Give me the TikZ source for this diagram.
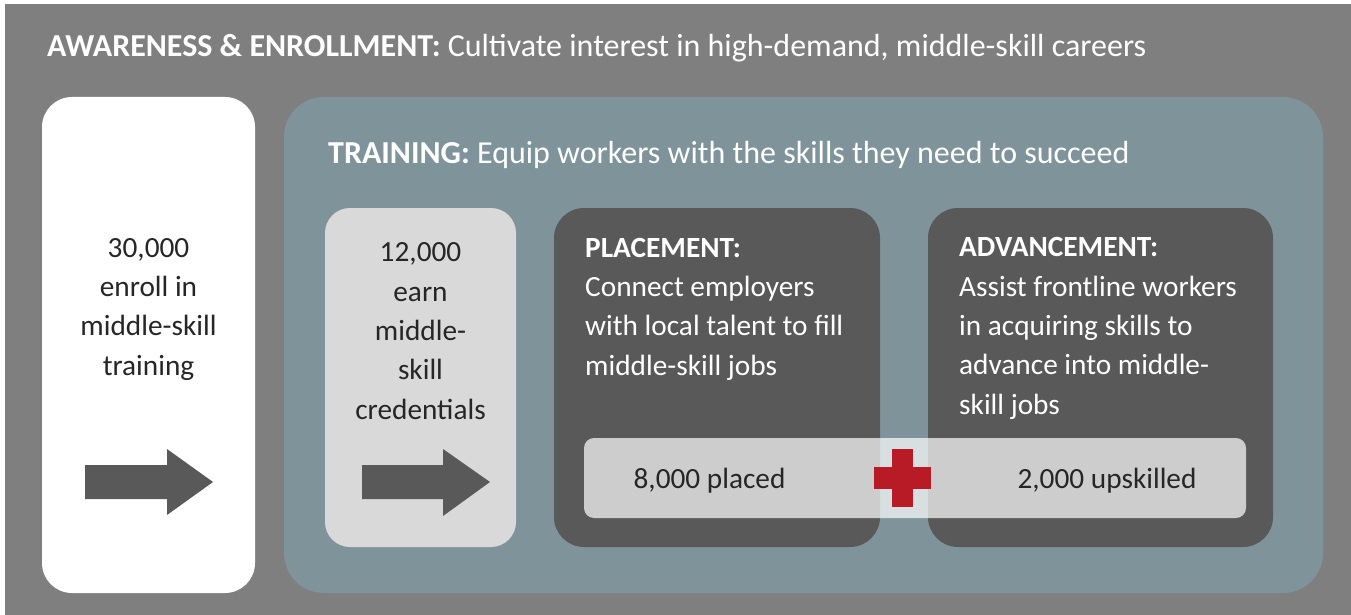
\documentclass[tikz,border=0pt]{standalone}
\usepackage{fontspec}
\setmainfont{Carlito}
\definecolor{frameGrey}{HTML}{7F7F7F}
\definecolor{trainTeal}{HTML}{7F949A}
\definecolor{credGrey}{HTML}{D9D9D9}
\definecolor{darkGrey}{HTML}{595959}
\definecolor{inkGrey}{HTML}{262626}
\definecolor{plusRed}{HTML}{B81A26}
\begin{document}
\begin{tikzpicture}[x=1pt,y=-1pt,
    body/.style={font=\fontsize{29.3}{39.3}\selectfont, inner sep=0pt},
    head/.style={font=\fontsize{32}{38}\selectfont, inner sep=0pt, anchor=base west},
    bigarrow/.style={fill=darkGrey}]
    \useasboundingbox (0,0) rectangle (1351,615);
    % panels
    \fill[frameGrey] (5,4) rectangle (1351,615);
    \fill[white, rounded corners=30] (42,97) rectangle (255,593);
    \fill[trainTeal, rounded corners=40] (284,97) rectangle (1323,593);
    \fill[credGrey, rounded corners=25] (325,208) rectangle (516,547);
    \fill[darkGrey, rounded corners=30] (554,208) rectangle (880,547);
    \fill[darkGrey, rounded corners=30] (928,208) rectangle (1273,547);
    \fill[white, fill opacity=0.7, rounded corners=10] (584,438) rectangle (1246,518);
    % plus
    \fill[plusRed] (874,467) rectangle (931,489);
    \fill[plusRed] (892,449) rectangle (913,507);
    % arrows
    \fill[bigarrow] (85,465) -- (167,465) -- (167,449) -- (213,482)
        -- (167,515) -- (167,499) -- (85,499) -- cycle;
    \fill[bigarrow] (362,465) -- (443,465) -- (443,449) -- (490,482)
        -- (443,516) -- (443,499) -- (362,499) -- cycle;
    % texts (multi-line nodes sit on their last baseline)
    \node[head, text=white] (awareness) at (47,57)
        {\textbf{AWARENESS \& ENROLLMENT:} Cultivate interest in high-demand, middle-skill careers};
    \node[head, text=white] (training) at (328,163)
        {\textbf{TRAINING:} Equip workers with the skills they need to succeed};
    \node[body, text=inkGrey, align=center, anchor=base] (enroll) at (148.5,375)
        {30,000\\enroll in\\middle-skill\\training};
    \node[body, text=inkGrey, align=center, anchor=base] (earn) at (420.5,419)
        {12,000\\earn\\middle-\\skill\\credentials};
    \node[body, text=white, align=left, anchor=base west] (placement) at (585,375)
        {\textbf{PLACEMENT:}\\Connect employers\\with local talent to fill\\middle-skill jobs};
    \node[body, text=white, align=left, anchor=base west] (advancement) at (959,414)
        {\textbf{ADVANCEMENT:}\\Assist frontline workers\\in acquiring skills to\\advance into middle-\\skill jobs};
    \node[body, text=inkGrey, anchor=base] (placed) at (709.5,488) {8,000 placed};
    \node[body, text=inkGrey, anchor=base] (upskilled) at (1107,488) {2,000 upskilled};
\end{tikzpicture}
\end{document}
